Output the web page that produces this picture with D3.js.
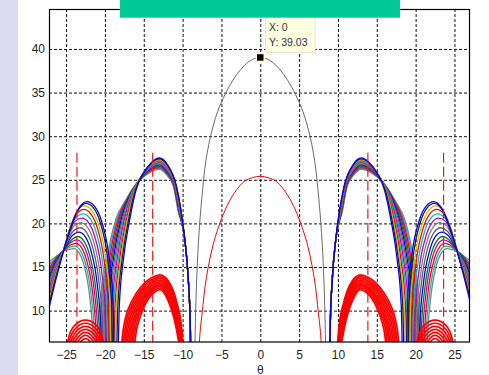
<!DOCTYPE html>
<html>
<head>
<meta charset="utf-8">
<script src="https://cdn.jsdelivr.net/npm/d3@7"></script>
<style>
  html, body { margin: 0; padding: 0; background: #fff; }
  svg { display: block; }
  text { font-family: "Liberation Sans", Arial, sans-serif; }
</style>
</head>
<body>
<svg id="chart" width="489" height="375"></svg>
<script>
// axis ticks
const xTicks = [-25, -20, -15, -10, -5, 0, 5, 10, 15, 20, 25];
const yTicks = [10, 15, 20, 25, 30, 35, 40];

// pattern is symmetric: every series holds [theta, gain] for theta >= 0 and is mirrored
const mainBeam = [[0, 39.03], [1, 38.8], [2, 38.15], [3, 37.1], [4, 35.7], [5, 33.9], [5.5, 32.8], [6, 31.4],
  [6.5, 29.6], [7, 27.2], [7.3, 25], [7.55, 22.7], [7.8, 20], [8.1, 15.5], [8.3, 10.5], [8.42, 5], [8.47, -6]];

const mainBeamRed = [[0, 25.4], [1, 25.25], [2, 24.85], [3, 23.9], [4, 22.5], [5, 20.5], [6, 17.8], [6.7, 15],
  [7.1, 12.8], [7.45, 10], [7.75, 7.5], [7.95, 4], [8.0, -6]];

// first null and start of the first sidelobe, the same for all coloured curves
const lobeInner = [[8.85, -6], [9.0, 8], [9.3, 14], [9.7, 18]];

// coloured family, from the highest second sidelobe to the lowest
const colourCurves = [
  [[10.2, 21.5], [10.8, 24.3], [12, 26.8], [13, 27.5], [14.0, 27.0], [15.0, 25.8], [16.0, 23.8], [16.8, 20.5], [17.6, 16], [18.15, 10.5], [18.6, -6], [18.97, 11.5], [19.53, 16.5], [20.45, 20.3], [21.38, 22.0], [22.3, 22.5], [23.3, 21.8], [24.3, 19.7], [25.4, 16.6], [26.3, 13.6], [27.2, 10.3]],
  [[10.23, 21.5], [10.83, 24.3], [12, 26.7], [13, 27.4], [14.04, 26.9], [15.09, 25.7], [16.13, 23.7], [16.94, 20.5], [17.76, 16], [18.34, 10.5], [18.8, -6], [19.16, 11.3], [19.7, 16.3], [20.6, 20.1], [21.5, 21.8], [22.4, 22.3], [23.4, 21.6], [24.4, 19.6], [25.4, 16.65], [26.3, 13.9], [27.2, 10.7]],
  [[10.26, 21.5], [10.86, 24.3], [12, 26.6], [13, 27.3], [14.08, 26.8], [15.16, 25.6], [16.24, 23.6], [17.08, 20.5], [17.92, 16], [18.52, 10.5], [19.0, -6], [19.36, 11.0], [19.9, 16.0], [20.8, 19.8], [21.7, 21.5], [22.6, 22.0], [23.6, 21.4], [24.5, 19.5], [25.4, 16.7], [26.3, 14.2], [27.2, 11.1]],
  [[10.29, 21.5], [10.89, 24.3], [12, 26.5], [13, 27.2], [14.12, 26.7], [15.23, 25.5], [16.35, 23.5], [17.22, 20.5], [18.08, 16], [18.7, 10.5], [19.2, -6], [19.55, 10.6], [20.08, 15.6], [20.95, 19.4], [21.83, 21.1], [22.7, 21.6], [23.7, 21.0], [24.6, 19.2], [25.4, 16.7], [26.3, 14.5], [27.2, 11.5]],
  [[10.32, 21.5], [10.92, 24.3], [12, 26.4], [13, 27.1], [14.15, 26.6], [15.3, 25.4], [16.46, 23.4], [17.35, 20.5], [18.25, 16], [18.89, 10.5], [19.4, -6], [19.74, 10.1], [20.25, 15.1], [21.1, 18.9], [21.95, 20.6], [22.8, 21.1], [23.8, 20.6], [24.7, 18.8], [25.4, 16.75], [26.3, 14.8], [27.2, 11.9]],
  [[10.35, 21.5], [10.95, 24.3], [12, 26.3], [13, 27.0], [14.19, 26.5], [15.38, 25.3], [16.56, 23.3], [17.49, 20.5], [18.41, 16], [19.07, 10.5], [19.6, -6], [19.94, 9.6], [20.44, 14.6], [21.28, 18.4], [22.11, 20.1], [22.95, 20.6], [23.9, 20.2], [24.8, 18.4], [25.4, 16.75], [26.3, 15.0], [27.2, 12.4]],
  [[10.38, 21.5], [10.98, 24.3], [12, 26.2], [13, 26.9], [14.22, 26.4], [15.45, 25.2], [16.67, 23.2], [17.62, 20.5], [18.58, 16], [19.26, 10.5], [19.8, -6], [20.13, 9.1], [20.63, 14.1], [21.45, 17.9], [22.28, 19.6], [23.1, 20.1], [24.0, 19.7], [24.9, 18.0], [25.4, 16.8], [26.3, 15.2], [27.2, 12.8]],
  [[10.41, 21.5], [11.01, 24.3], [12, 26.1], [13, 26.8], [14.26, 26.3], [15.52, 25.1], [16.78, 23.1], [17.76, 20.5], [18.74, 16], [19.44, 10.5], [20.0, -6], [20.32, 8.5], [20.8, 13.5], [21.6, 17.3], [22.4, 19.0], [23.2, 19.5], [24.1, 19.1], [24.9, 17.8], [25.4, 16.8], [26.3, 15.4], [27.2, 13.2]],
  [[10.44, 21.5], [11.04, 24.3], [12, 26.0], [13, 26.7], [14.3, 26.2], [15.59, 25.0], [16.89, 23.0], [17.9, 20.5], [18.9, 16], [19.62, 10.5], [20.2, -6], [20.52, 8.0], [20.99, 13.0], [21.78, 16.8], [22.56, 18.5], [23.35, 19.0], [24.2, 18.6], [25.4, 16.8], [26.3, 15.6], [27.2, 13.6]],
  [[10.47, 21.5], [11.07, 24.3], [12, 25.9], [13, 26.6], [14.33, 26.1], [15.66, 24.9], [17.0, 22.9], [18.03, 20.5], [19.07, 16], [19.81, 10.5], [20.4, -6], [20.71, 7.5], [21.18, 12.5], [21.95, 16.3], [22.73, 18.0], [23.5, 18.5], [24.3, 18.1], [25.4, 16.8], [26.3, 15.8], [27.2, 14.0]],
  [[10.5, 21.5], [11.1, 24.3], [12, 25.8], [13, 26.5], [14.37, 26.0], [15.74, 24.8], [17.1, 22.8], [18.17, 20.5], [19.23, 16], [19.99, 10.5], [20.6, -6], [20.9, 7.1], [21.35, 12.1], [22.1, 15.9], [22.85, 17.6], [23.6, 18.1], [24.4, 17.8], [25.4, 16.8], [26.3, 15.9], [27.2, 14.4]],
  [[10.53, 21.5], [11.13, 24.3], [12, 25.7], [13, 26.4], [14.4, 25.9], [15.81, 24.7], [17.21, 22.7], [18.3, 20.5], [19.4, 16], [20.18, 10.5], [20.8, -6], [21.1, 6.7], [21.54, 11.7], [22.28, 15.5], [23.01, 17.2], [23.75, 17.7], [24.5, 17.5], [25.4, 16.8], [26.3, 16.0], [27.2, 14.8]],
  [[10.56, 21.5], [11.16, 24.3], [12, 25.6], [13, 26.3], [14.44, 25.8], [15.88, 24.6], [17.32, 22.6], [18.44, 20.5], [19.56, 16], [20.36, 10.5], [21.0, -6], [21.29, 6.4], [21.73, 11.4], [22.45, 15.2], [23.18, 16.9], [23.9, 17.4], [24.6, 17.25], [25.4, 16.8], [26.3, 16.1], [27.2, 15.2]],
  [[10.59, 21.5], [11.19, 24.3], [12, 25.5], [13, 26.2], [14.48, 25.7], [15.95, 24.5], [17.43, 22.5], [18.58, 20.5], [19.72, 16], [20.54, 10.5], [21.2, -6], [21.48, 6.1], [21.9, 11.1], [22.6, 14.9], [23.3, 16.6], [24.0, 17.1], [24.7, 17.0], [25.4, 16.8], [26.3, 16.2], [27.2, 15.6]]
];
const colourCurveColors = ['#0000ff', '#202020', '#bfbf00', '#ff0000', '#00bfbf', '#bf00bf', '#7f7f7f',
  '#606060', '#0000ff', '#008000', '#bf00bf', '#ff0000', '#00bfbf', '#808080'];

// red family, first sidelobe
const redLobe1 = [
  [[9.7, -6], [9.9, 5], [10.2, 8.6], [10.7, 10.8], [11.5, 12.9], [12.9, 14.1], [13.94, 13.8], [14.98, 13.1], [16.02, 11.9], [16.8, 10.6], [17.42, 8.9], [17.84, 6.1], [18.1, -6]],
  [[9.74, -6], [9.94, 5], [10.24, 8.4], [10.74, 10.6], [11.54, 12.7], [12.9, 13.9], [13.9, 13.6], [14.91, 12.9], [15.91, 11.7], [16.67, 10.4], [17.27, 8.7], [17.67, 5.9], [17.92, -6]],
  [[9.79, -6], [9.99, 5], [10.29, 8.2], [10.79, 10.4], [11.59, 12.5], [12.9, 13.7], [13.87, 13.4], [14.84, 12.7], [15.8, 11.5], [16.53, 10.2], [17.11, 8.5], [17.5, 5.7], [17.74, -6]],
  [[9.83, -6], [10.03, 5], [10.33, 8.0], [10.83, 10.2], [11.63, 12.3], [12.9, 13.5], [13.83, 13.2], [14.77, 12.5], [15.7, 11.3], [16.4, 10.0], [16.96, 8.3], [17.34, 5.5], [17.57, -6]],
  [[9.88, -6], [10.08, 5], [10.38, 7.8], [10.88, 10.0], [11.68, 12.1], [12.9, 13.3], [13.8, 13.0], [14.7, 12.3], [15.59, 11.1], [16.27, 9.8], [16.81, 8.1], [17.17, 5.3], [17.39, -6]],
  [[9.92, -6], [10.12, 5], [10.42, 7.6], [10.92, 9.8], [11.72, 11.9], [12.9, 13.1], [13.76, 12.8], [14.62, 12.1], [15.49, 10.9], [16.13, 9.6], [16.65, 7.9], [17.0, 5.1], [17.21, -6]],
  [[9.97, -6], [10.17, 5], [10.47, 7.45], [10.97, 9.65], [11.77, 11.75], [12.9, 12.95], [13.73, 12.65], [14.55, 11.95], [15.38, 10.75], [16.0, 9.45], [16.49, 7.75], [16.82, 4.95], [17.03, -6]],
  [[10.01, -6], [10.21, 5], [10.51, 7.3], [11.01, 9.5], [11.81, 11.6], [12.9, 12.8], [13.69, 12.5], [14.48, 11.8], [15.28, 10.6], [15.87, 9.3], [16.35, 7.6], [16.66, 4.8], [16.86, -6]],
  [[10.06, -6], [10.26, 5], [10.56, 7.1], [11.06, 9.3], [11.86, 11.4], [12.9, 12.6], [13.66, 12.3], [14.41, 11.6], [15.17, 10.4], [15.74, 9.1], [16.19, 7.4], [16.49, 4.6], [16.68, -6]],
  [[10.1, -6], [10.3, 5], [10.6, 6.9], [11.1, 9.1], [11.9, 11.2], [12.9, 12.4], [13.62, 12.1], [14.34, 11.4], [15.06, 10.2], [15.6, 8.9], [16.03, 7.2], [16.32, 4.4], [16.5, -6]]
];

// red family, second sidelobe
const redLobe2 = [
  [[19.65, -6], [19.9, 3.9], [20.25, 6.6], [21.1, 8.3], [22.5, 8.9], [23.9, 8.3], [24.75, 6.6], [25.1, 3.9], [25.35, -6]],
  [[19.75, -6], [20.0, 3.55], [20.35, 6.25], [21.2, 7.95], [22.5, 8.55], [23.8, 7.95], [24.65, 6.25], [25.0, 3.55], [25.25, -6]],
  [[19.85, -6], [20.1, 3.2], [20.45, 5.9], [21.3, 7.6], [22.5, 8.2], [23.7, 7.6], [24.55, 5.9], [24.9, 3.2], [25.15, -6]],
  [[19.95, -6], [20.2, 2.85], [20.55, 5.55], [21.4, 7.25], [22.5, 7.85], [23.6, 7.25], [24.45, 5.55], [24.8, 2.85], [25.05, -6]],
  [[20.05, -6], [20.3, 2.5], [20.65, 5.2], [21.5, 6.9], [22.5, 7.5], [23.5, 6.9], [24.35, 5.2], [24.7, 2.5], [24.95, -6]],
  [[20.15, -6], [20.4, 2.15], [20.75, 4.85], [21.6, 6.55], [22.5, 7.15], [23.4, 6.55], [24.25, 4.85], [24.6, 2.15], [24.85, -6]],
  [[20.25, -6], [20.5, 1.8], [20.85, 4.5], [21.7, 6.2], [22.5, 6.8], [23.3, 6.2], [24.15, 4.5], [24.5, 1.8], [24.75, -6]]
];

// red dashed markers (theta, top gain)
const markerAngles = [13.85, 23.6];
const markerTop = 28.1;

// data tip
const tipX = 0;
const tipY = 39.03;

const svg = d3.select('#chart');
const x = d3.scaleLinear().domain([-27.2, 27.0]).range([49, 470]);
const y = d3.scaleLinear().domain([6.4, 44.55]).range([342, 9.3]);

const mirror = pts => pts.map(([t, g]) => [-t, g]).reverse();
const line = d3.line()
  .x(d => x(d[0]))
  .y(d => y(d[1]))
  .curve(d3.curveMonotoneX);
const smoothLine = d3.line()
  .x(d => x(d[0]))
  .y(d => y(d[1]))
  .curve(d3.curveCatmullRom.alpha(0.5));

// page background
svg.append('rect').attr('width', 489).attr('height', 375).attr('fill', '#fff');
svg.append('rect').attr('width', 18).attr('height', 375).attr('fill', '#dcdcf2');

svg.append('defs').append('clipPath').attr('id', 'plot')
  .append('rect').attr('x', 49).attr('y', 9.3).attr('width', 421).attr('height', 332.7);

// grid
const grid = svg.append('g');
grid.append('g')
  .attr('transform', 'translate(0,342)')
  .call(d3.axisBottom(x).tickValues(xTicks).tickSize(-(342 - 9.3)).tickFormat(''))
  .call(g => g.select('.domain').remove())
  .selectAll('line')
  .attr('stroke', '#111')
  .attr('stroke-dasharray', '3,2');
grid.append('g')
  .attr('transform', 'translate(49,0)')
  .call(d3.axisLeft(y).tickValues(yTicks).tickSize(-421).tickFormat(''))
  .call(g => g.select('.domain').remove())
  .selectAll('line')
  .attr('stroke', '#111')
  .attr('stroke-dasharray', '3,2');

const plot = svg.append('g').attr('clip-path', 'url(#plot)');

// coloured family
for (let k = colourCurves.length - 1; k >= 0; k--) {
  const pts = lobeInner.concat(colourCurves[k]);
  [pts, mirror(pts)].forEach(p => {
    plot.append('path')
      .attr('d', line(p))
      .attr('fill', 'none')
      .attr('stroke', colourCurveColors[k])
      .attr('stroke-width', 1.3);
  });
}

// red family
redLobe1.concat(redLobe2).forEach(pts => {
  [pts, mirror(pts)].forEach(p => {
    plot.append('path')
      .attr('d', line(p))
      .attr('fill', 'none')
      .attr('stroke', '#ff0000')
      .attr('stroke-width', 1.7);
  });
});

// red dashed markers
markerAngles.forEach(a => {
  [a, -a].forEach(t => {
    plot.append('line')
      .attr('x1', x(t)).attr('x2', x(t))
      .attr('y1', y(markerTop)).attr('y2', 342)
      .attr('stroke', '#ff1010')
      .attr('stroke-width', 1.2)
      .attr('stroke-dasharray', '10,4');
  });
});

// main beams
plot.append('path')
  .attr('d', smoothLine(mirror(mainBeamRed).concat(mainBeamRed.slice(1))))
  .attr('fill', 'none')
  .attr('stroke', '#ff0000')
  .attr('stroke-width', 1);
plot.append('path')
  .attr('d', smoothLine(mirror(mainBeam).concat(mainBeam.slice(1))))
  .attr('fill', 'none')
  .attr('stroke', '#6a6a6a')
  .attr('stroke-width', 1);

// frame
svg.append('rect')
  .attr('x', 49.5).attr('y', 9.5).attr('width', 420).attr('height', 332.5)
  .attr('fill', 'none').attr('stroke', '#000').attr('stroke-width', 1.2);

// tick labels
svg.append('g')
  .attr('transform', 'translate(0,342)')
  .call(d3.axisBottom(x).tickValues(xTicks).tickSize(0).tickPadding(8))
  .call(g => g.select('.domain').remove())
  .selectAll('text')
  .attr('font-size', 12)
  .attr('font-family', '"Liberation Sans", Arial, sans-serif')
  .attr('fill', '#1e1e1e');
svg.append('g')
  .attr('transform', 'translate(49,0)')
  .call(d3.axisLeft(y).tickValues(yTicks).tickSize(0).tickPadding(4))
  .call(g => g.select('.domain').remove())
  .selectAll('text')
  .attr('font-size', 12)
  .attr('font-family', '"Liberation Sans", Arial, sans-serif')
  .attr('fill', '#1e1e1e');

svg.append('text')
  .attr('x', x(0)).attr('y', 373.5)
  .attr('text-anchor', 'middle')
  .attr('font-size', 12)
  .attr('fill', '#1e1e1e')
  .text('θ');

// data tip
svg.append('rect')
  .attr('x', 265.5).attr('y', 8).attr('width', 49.5).attr('height', 44.3)
  .attr('fill', '#ffffe1').attr('stroke', '#e4e4c8').attr('stroke-width', 1);
svg.append('text').attr('x', 269).attr('y', 30.5)
  .attr('font-size', 10.5).attr('fill', '#303040').text('X: ' + tipX);
svg.append('text').attr('x', 269).attr('y', 45.5)
  .attr('font-size', 10.5).attr('fill', '#303040').text('Y: ' + tipY.toFixed(2));
svg.append('rect')
  .attr('x', x(tipX) - 4).attr('y', y(tipY) - 4).attr('width', 8).attr('height', 8)
  .attr('fill', '#000').attr('stroke', '#ffffcc').attr('stroke-width', 1.5);

// banner
svg.append('rect').attr('x', 120).attr('y', 0).attr('width', 280).attr('height', 17.7).attr('fill', '#00c995');
</script>
</body>
</html>
